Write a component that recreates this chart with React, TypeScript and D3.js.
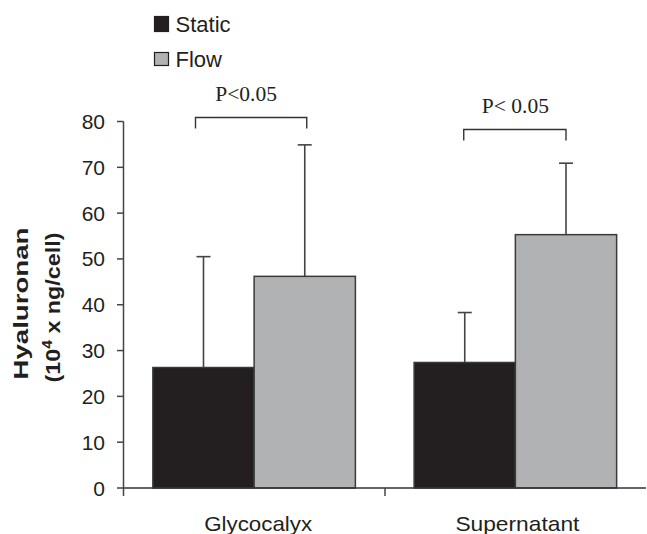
import React from "react";
import * as d3 from "d3";

const categories = ["Glycocalyx", "Supernatant"];
const seriesNames = ["Static", "Flow"];
const staticValues = [26.3, 27.4];
const staticErrors = [50.5, 38.3];
const flowValues = [46.2, 55.3];
const flowErrors = [74.9, 70.9];
const yTicks = [0, 10, 20, 30, 40, 50, 60, 70, 80];
const pLabels = ["P<0.05", "P< 0.05"];
const colors = ["#231f20", "#b1b2b4"];

const W = 647;
const H = 534;

export default function App() {
  const y = d3.scaleLinear().domain([0, 80]).range([488, 121.5]);
  const x0 = d3.scaleBand<string>().domain(categories).range([123.5, 646]).padding(0);
  const x1 = d3
    .scaleBand<string>()
    .domain(seriesNames)
    .range([0, x0.bandwidth()])
    .paddingInner(0)
    .paddingOuter(0.29);

  const values = [staticValues, flowValues];
  const errs = [staticErrors, flowErrors];
  const sans = "Arial, 'Liberation Sans', Helvetica, sans-serif";
  const serif = "'Times New Roman', 'Liberation Serif', serif";
  const catLen = [108, 124];
  const brOff = [
    [-8, 2, 117.5, 101],
    [-1, 0, 129.5, 112.5],
  ];

  return (
    <svg
      width={W}
      height={H}
      style={{ position: "absolute", left: 0, top: 0, background: "#fff" }}
    >
      {/* legend */}
      {seriesNames.map((s, i) => (
        <g key={s}>
          <rect
            x={154.5}
            y={16.5 + i * 36}
            width={14}
            height={i === 0 ? 15 : 13}
            fill={colors[i]}
            stroke="#231f20"
            strokeWidth={1.2}
          />
          <text x={175.5} y={32 + i * 34.5} fontFamily={sans} fontSize={22} fill="#231f20">
            {s}
          </text>
        </g>
      ))}

      {/* bars */}
      {categories.map((c, ci) =>
        seriesNames.map((s, si) => {
          const bx = (x0(c) as number) + (x1(s) as number);
          const bw = x1.bandwidth();
          const v = values[si][ci];
          const e = errs[si][ci];
          const cx = bx + bw / 2;
          return (
            <g key={c + s}>
              <line x1={cx} x2={cx} y1={y(v)} y2={y(e)} stroke="#444" strokeWidth={1.6} />
              <line x1={cx - 7} x2={cx + 7} y1={y(e)} y2={y(e)} stroke="#444" strokeWidth={1.6} />
              <rect
                x={bx}
                y={y(v)}
                width={bw}
                height={y(0) - y(v)}
                fill={colors[si]}
                stroke="#3a3a3a"
                strokeWidth={1.5}
              />
            </g>
          );
        })
      )}

      {/* significance brackets */}
      {categories.map((c, ci) => {
        const [oa, ob, top, base] = brOff[ci];
        const xa = (x0(c) as number) + (x1("Static") as number) + x1.bandwidth() / 2 + oa;
        const xb = (x0(c) as number) + (x1("Flow") as number) + x1.bandwidth() / 2 + ob;
        return (
          <g key={"p" + c}>
            <path
              d={`M${xa},${top + 11}V${top}H${xb}V${top + 11}`}
              fill="none"
              stroke="#333"
              strokeWidth={1.4}
            />
            <text
              x={(xa + xb) / 2 - (ci === 0 ? 5 : -0.5)}
              y={base}
              textAnchor="middle"
              fontFamily={serif}
              fontSize={21.5}
              fill="#231f20"
            >
              {pLabels[ci]}
            </text>
          </g>
        );
      })}

      {/* y axis */}
      <line x1={123.5} x2={123.5} y1={121.5} y2={496} stroke="#444" strokeWidth={1.5} />
      {yTicks.map((t) => (
        <g key={t}>
          <line x1={117} x2={123.5} y1={y(t)} y2={y(t)} stroke="#444" strokeWidth={1.5} />
          <text
            x={105}
            y={y(t) + 7.5}
            textAnchor="end"
            fontFamily={sans}
            fontSize={21}
            fill="#231f20"
          >
            {t}
          </text>
        </g>
      ))}

      {/* x axis */}
      <line x1={123.5} x2={646} y1={488} y2={488} stroke="#333" strokeWidth={1.5} />
      <line x1={385} x2={385} y1={488} y2={496} stroke="#444" strokeWidth={1.5} />
      {categories.map((c, i) => (
        <text
          key={c}
          x={(x0(c) as number) + x0.bandwidth() / 2 + (i === 0 ? 4 : 2)}
          y={531}
          textAnchor="middle"
          fontFamily={sans}
          fontSize={21}
          textLength={catLen[i]}
          lengthAdjust="spacingAndGlyphs"
          fill="#231f20"
        >
          {c}
        </text>
      ))}

      {/* y title */}
      <g transform="rotate(-90)">
        <text
          x={-303.5}
          y={28}
          textAnchor="middle"
          fontFamily={sans}
          fontSize={21}
          fontWeight="bold"
          textLength={152}
          lengthAdjust="spacingAndGlyphs"
          fill="#231f20"
        >
          Hyaluronan
        </text>
        <text
          x={-307.5}
          y={60}
          textAnchor="middle"
          fontFamily={sans}
          fontSize={21}
          fontWeight="bold"
          textLength={150}
          lengthAdjust="spacingAndGlyphs"
          fill="#231f20"
        >
          (10<tspan dy={-8} fontSize={14}>4</tspan>
          <tspan dy={8}> x ng/cell)</tspan>
        </text>
      </g>
    </svg>
  );
}
